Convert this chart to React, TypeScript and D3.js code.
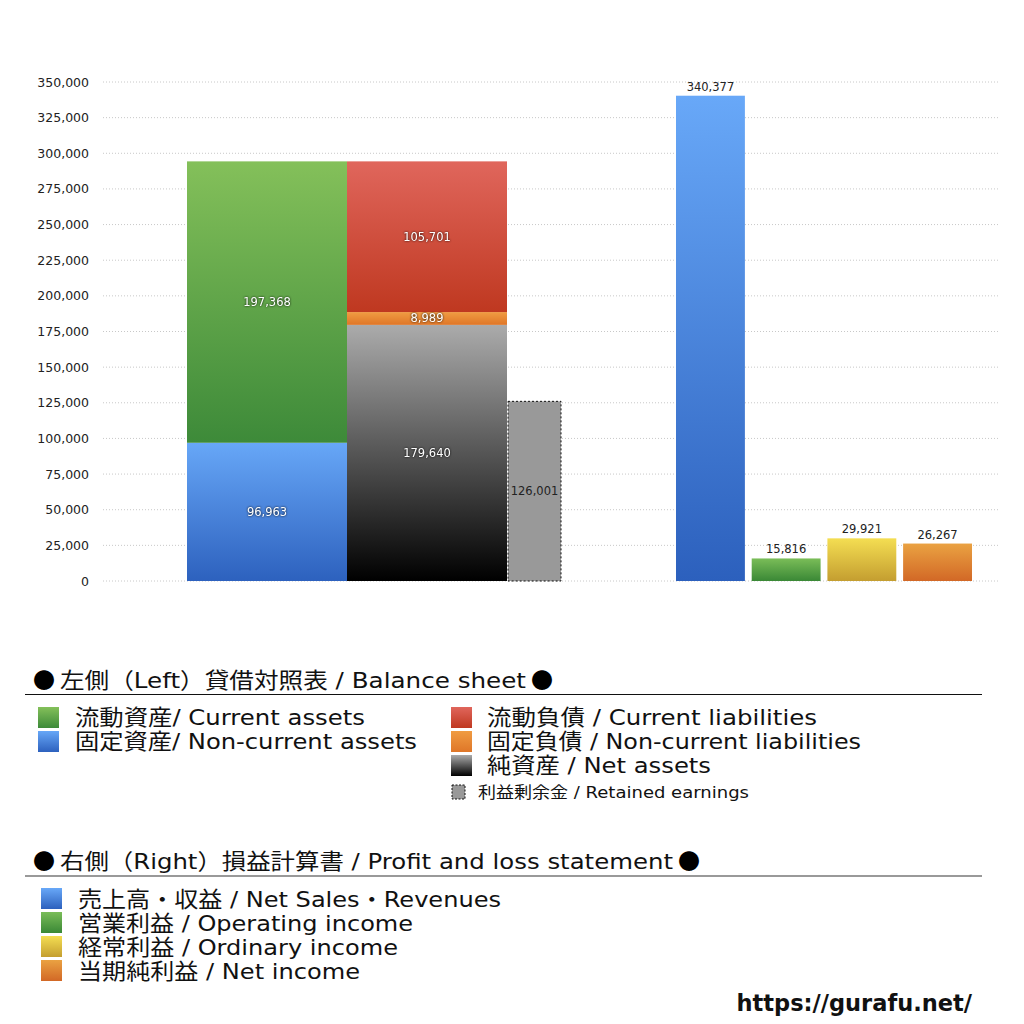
import React from "react";
import * as d3 from "d3";

const yTicks = [0, 25000, 50000, 75000, 100000, 125000, 150000, 175000, 200000, 225000, 250000, 275000, 300000, 325000, 350000];

// Balance sheet (left)
const assetNames = ["固定資産", "流動資産"];
const assetValues = [96963, 197368];
const liabNames = ["純資産", "固定負債", "流動負債"];
const liabValues = [179640, 8989, 105701];
const retainedEarnings = 126001;

// Profit and loss (right)
const plNames = ["売上高", "営業利益", "経常利益", "当期純利益"];
const plValues = [340377, 15816, 29921, 26267];

const leftTitle = "左側（Left）貸借対照表 / Balance sheet";
const rightTitle = "右側（Right）損益計算書 / Profit and loss statement";
const leftLegend1 = ["流動資産/ Current assets", "固定資産/ Non-current assets"];
const leftLegend2 = ["流動負債 /  Current liabilities", "固定負債 / Non-current liabilities", "純資産 / Net assets"];
const retainedLabel = "利益剰余金 / Retained earnings";
const rightLegend = ["売上高・収益 / Net Sales・Revenues", "営業利益 / Operating income", "経常利益 / Ordinary income", "当期純利益 / Net income"];

// layout: rendered text widths measured from reference
const leftLegend1W = [290, 342];
const leftLegend2W = [330, 374, 224];
const rightLegendW = [423, 335, 320, 282];

const grads: Record<string, [string, string]> = {
  blue: ["#67a7f7", "#2d61be"],
  green: ["#84c05a", "#3d8a39"],
  red: ["#e0665c", "#bf3820"],
  orange: ["#f09c42", "#df7628"],
  black: ["#ababab", "#000000"],
  pBlue: ["#68a8f8", "#2c60bd"],
  pGreen: ["#7abd58", "#3a8836"],
  pYellow: ["#f4de52", "#c49e30"],
  pOrange: ["#eaa242", "#d26826"],
};

const assetColors = ["blue", "green"];
const liabColors = ["black", "orange", "red"];
const plColors = ["pBlue", "pGreen", "pYellow", "pOrange"];

const fmt = d3.format(",");
const NFONT = "'DejaVu Sans', 'Liberation Sans', Arial, sans-serif";
const JFONT = "'DejaVu Sans', 'Noto Sans CJK JP', sans-serif";
const CJK = "'Noto Sans CJK JP', sans-serif";

export default function App() {
  const y = d3.scaleLinear().domain([0, 350000]).range([581, 82]);
  const xLeft = d3.scaleBand<string>().domain(["assets", "liab"]).range([187, 507]).paddingInner(0);
  const xRight = d3.scaleBand<string>().domain(plNames).range([676, 972]).paddingInner(0.09).paddingOuter(0);

  const stack = (vals: number[]) => {
    let acc = 0;
    return vals.map((v) => {
      const s = { y0: acc, y1: acc + v, v };
      acc += v;
      return s;
    });
  };
  const assetStack = stack(assetValues);
  const liabStack = stack(liabValues);

  const inLabel = (x: number, yy: number, txt: string, key: string) => (
    <text key={key} x={x} y={yy} textAnchor="middle" dominantBaseline="central" fontFamily={NFONT} fontSize={11.5}
      fill="#ffffff" style={{ filter: "drop-shadow(0px 0px 1px rgba(0,0,0,0.9))" }}>{txt}</text>
  );

  const legendText = (x: number, yy: number, t: string, w: number, size: number, key?: string) => (
    <text key={key} x={x} y={yy} fontFamily={JFONT} fontSize={size} fill="#111" textLength={w} lengthAdjust="spacingAndGlyphs">{t}</text>
  );

  const title = (x0: number, x1: number, yy: number, t: string) => (
    <g>
      <text x={x0} y={yy} fontFamily={CJK} fontSize={22} fill="#000">●</text>
      {legendText(x0 + 27, yy, t, x1 - x0 - 54, 22)}
      <text x={x1} y={yy} textAnchor="end" fontFamily={CJK} fontSize={22} fill="#000">●</text>
    </g>
  );

  return (
    <svg width={1024} height={1024} style={{ position: "absolute", left: 0, top: 0, background: "#fff" }}>
      <defs>
        {Object.entries(grads).map(([k, [a, b]]) => (
          <linearGradient key={k} id={"g-" + k} x1="0" y1="0" x2="0" y2="1">
            <stop offset="0" stopColor={a} />
            <stop offset="1" stopColor={b} />
          </linearGradient>
        ))}
      </defs>

      {/* grid + axis labels */}
      {yTicks.map((t) => (
        <g key={t}>
          <line x1={103} x2={1000} y1={y(t)} y2={y(t)} stroke="#c8c8c8" strokeWidth={1} strokeDasharray="1,2" />
          <text x={89} y={y(t)} textAnchor="end" dominantBaseline="central" fontFamily={NFONT} fontSize={12.5} fill="#222">{fmt(t)}</text>
        </g>
      ))}

      {/* assets column */}
      {assetStack.map((s, i) => (
        <rect key={"a" + i} x={xLeft("assets")} width={xLeft.bandwidth()} y={y(s.y1)} height={y(s.y0) - y(s.y1)} fill={`url(#g-${assetColors[i]})`} />
      ))}
      {liabStack.map((s, i) => (
        <rect key={"l" + i} x={xLeft("liab")} width={xLeft.bandwidth()} y={y(s.y1)} height={y(s.y0) - y(s.y1)} fill={`url(#g-${liabColors[i]})`} />
      ))}
      <rect x={508} width={53} y={y(retainedEarnings)} height={y(0) - y(retainedEarnings)} fill="#999999" stroke="#111" strokeWidth={1} strokeDasharray="2,2" />

      {assetStack.map((s, i) => inLabel(xLeft("assets")! + xLeft.bandwidth() / 2, (y(s.y0) + y(s.y1)) / 2, fmt(s.v), "al" + i))}
      {liabStack.map((s, i) => inLabel(xLeft("liab")! + xLeft.bandwidth() / 2, (y(s.y0) + y(s.y1)) / 2, fmt(s.v), "ll" + i))}
      <text x={534.5} y={(y(retainedEarnings) + y(0)) / 2} textAnchor="middle" dominantBaseline="central" fontFamily={NFONT} fontSize={11.5} fill="#222">{fmt(retainedEarnings)}</text>

      {/* P&L bars */}
      {plValues.map((v, i) => (
        <g key={"p" + i}>
          <rect x={xRight(plNames[i])} width={xRight.bandwidth()} y={y(v)} height={y(0) - y(v)} fill={`url(#g-${plColors[i]})`} />
          <text x={xRight(plNames[i])! + xRight.bandwidth() / 2} y={y(v) - 5} textAnchor="middle" fontFamily={NFONT} fontSize={11.5} fill="#222">{fmt(v)}</text>
        </g>
      ))}

      {/* Left legend */}
      {title(33, 553, 688, leftTitle)}
      <line x1={25} x2={982} y1={694.5} y2={694.5} stroke="#111" strokeWidth={1.2} />
      {leftLegend1.map((t, i) => (
        <g key={"ll1" + i}>
          <rect x={38} y={707 + i * 24} width={21} height={21} fill={`url(#g-${i === 0 ? "green" : "blue"})`} />
          {legendText(75, 725 + i * 24, t, leftLegend1W[i], 22)}
        </g>
      ))}
      {leftLegend2.map((t, i) => (
        <g key={"ll2" + i}>
          <rect x={451} y={707 + i * 24} width={21} height={21} fill={`url(#g-${["red", "orange", "black"][i]})`} />
          {legendText(487, 725 + i * 24, t, leftLegend2W[i], 22)}
        </g>
      ))}
      <rect x={452} y={785} width={13} height={14} fill="#999" stroke="#111" strokeWidth={1} strokeDasharray="2,1.5" />
      {legendText(478, 798, retainedLabel, 271, 16)}

      {/* Right legend */}
      {title(33, 700, 869, rightTitle)}
      <line x1={25} x2={982} y1={876} y2={876} stroke="#777" strokeWidth={1.5} />
      {rightLegend.map((t, i) => (
        <g key={"rl" + i}>
          <rect x={41} y={888 + i * 24} width={21} height={21} fill={`url(#g-${plColors[i]})`} />
          {legendText(78, 907 + i * 24, t, rightLegendW[i], 22)}
        </g>
      ))}

      <text x={972} y={1011} textAnchor="end" fontFamily={NFONT} fontWeight="bold" fontSize={22.5} fill="#111">https://gurafu.net/</text>
    </svg>
  );
}
